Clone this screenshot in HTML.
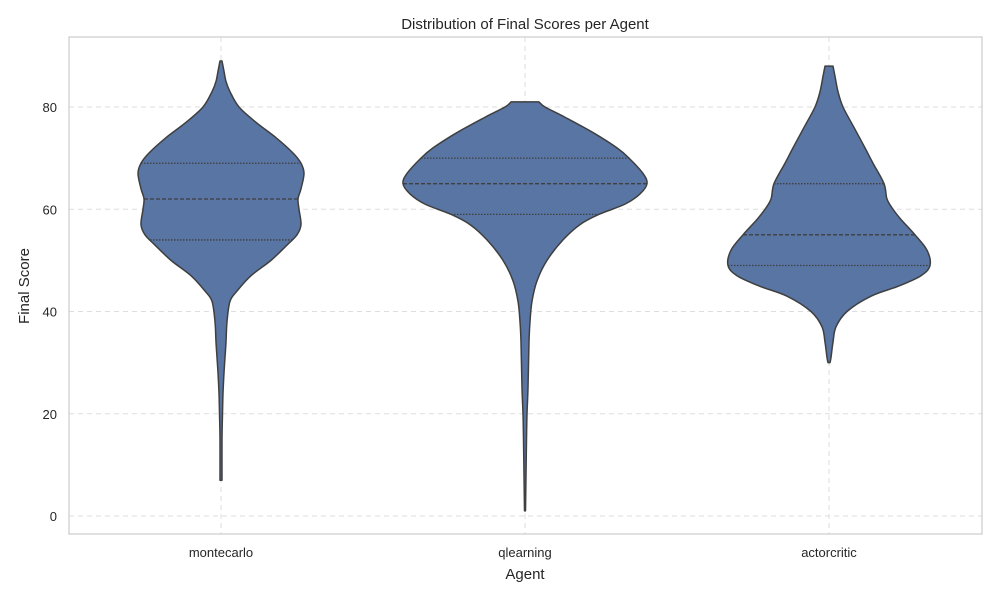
<!DOCTYPE html>
<html><head><meta charset="utf-8"><style>
body{margin:0;background:#fff;font-family:"Liberation Sans",sans-serif}
svg text{font-family:"Liberation Sans",sans-serif;fill:#262626}
</style></head><body>
<svg id="chart" width="1000" height="600" xmlns="http://www.w3.org/2000/svg">
<rect width="1000" height="600" fill="#fff"/>
<g id="grid"></g><g id="violins"></g><g id="axes"></g>
<text x="525" y="29" text-anchor="middle" font-size="15">Distribution of Final Scores per Agent</text>
<text x="525" y="579" text-anchor="middle" font-size="15">Agent</text>
<text transform="translate(29,286) rotate(-90)" text-anchor="middle" font-size="15">Final Score</text>
</svg>
<script>
const categories = ["montecarlo","qlearning","actorcritic"];
const yTicks = [0,20,40,60,80];
const profileMonte = [[89,1],[87,3],[85,5],[83,9],[80,18],[77,35],[74,55],[71,72],[69,80],[67,83],[64,80],[62,77],[60,78],[57,80],[55,76],[53,66],[50,50],[47,30],[44,16],[42,9],[38,6],[34,5],[31,4],[28,3],[24,2],[20,1.5],[15,1],[7,1]];
const profileQ = [[81,14],[80,20],[78,40],[75,68],[72,92],[70,104],[67,118],[65,122],[63,115],[61,100],[59,74],[57,55],[54,38],[50,22],[46,12],[42,7],[38,5],[34,4],[25,3],[20,2],[15,1.5],[8,1],[1,0.5]];
const profileAC = [[88,4],[86,6],[83,9],[80,14],[76,25],[72,36],[69,44],[65,55],[62,58],[60,64],[58,72],[55,86],[52,98],[49,101],[47,92],[45,70],[43,42],[40,18],[37,7],[34,4],[31,2],[30,1]];
const quartMonte = [54,62,69];
const quartQ = [59,65,70];
const quartAC = [49,55,65];
const profiles = [profileMonte, profileQ, profileAC];
const quarts = [quartMonte, quartQ, quartAC];
const NS="http://www.w3.org/2000/svg";
const L=69,R=982,T=37,B=534;
const y=v=>516-v*5.1125;
const x=i=>221+i*304;
const wScale=d=>d;
function mk(t,a,p){const e=document.createElementNS(NS,t);for(const k in a)e.setAttribute(k,a[k]);p.appendChild(e);return e;}
const grid=document.getElementById('grid'),ax=document.getElementById('axes'),vg=document.getElementById('violins');
yTicks.forEach(t=>{
 const g=mk('line',{x1:L,x2:R,y1:y(t),y2:y(t),stroke:'#dddddd','stroke-dasharray':'5,4'},grid);
 
 
 const tx=mk('text',{x:L-12,y:y(t)+5,'text-anchor':'end','font-size':'13'},ax);
 tx.textContent=t;
 
 
});
categories.forEach((c,i)=>{
 const g=mk('line',{x1:x(i),x2:x(i),y1:T,y2:B,stroke:'#dddddd','stroke-dasharray':'5,4'},grid);
 
 
 const tx=mk('text',{x:x(i),y:557,'text-anchor':'middle','font-size':'13'},ax);
 tx.textContent=c;
 
 
});
const fr=mk('rect',{x:L,y:T,width:R-L,height:B-T,fill:'none',stroke:'#cccccc','stroke-width':1.2},ax);


function widthAt(p,v){for(let k=0;k<p.length-1;k++){const a=p[k],b=p[k+1];if(v<=a[0]&&v>=b[0]){const t=(a[0]-v)/(a[0]-b[0]);return a[1]+(b[1]-a[1])*t;}}return 0;}
function smooth(pts){
 let d='M'+pts[0][0]+','+pts[0][1];
 for(let k=0;k<pts.length-1;k++){
  const p0=pts[Math.max(k-1,0)],p1=pts[k],p2=pts[k+1],p3=pts[Math.min(k+2,pts.length-1)];
  const c1=[p1[0]+(p2[0]-p0[0])/6,p1[1]+(p2[1]-p0[1])/6];
  const c2=[p2[0]-(p3[0]-p1[0])/6,p2[1]-(p3[1]-p1[1])/6];
  d+=' C'+c1[0]+','+c1[1]+' '+c2[0]+','+c2[1]+' '+p2[0]+','+p2[1];
 }
 return d;
}
profiles.forEach((p,i)=>{
 const cx=x(i);
 const right=p.map(q=>[cx+wScale(q[1]),y(q[0])]);
 const left=p.slice().reverse().map(q=>[cx-wScale(q[1]),y(q[0])]);
 const d=smooth(right)+' L'+left[0][0]+','+left[0][1]+' '+smooth(left).slice(1).replace(/^[^C]*/,'')+'Z';
 const v=mk('path',{d:d,fill:'#5875a4',stroke:'#3f3f3f','stroke-width':1.5,'stroke-linejoin':'round'},vg);
 
 
 quarts[i].forEach((qv,j)=>{
  const w=wScale(widthAt(p,qv));
  const l=mk('line',{x1:cx-w,x2:cx+w,y1:y(qv),y2:y(qv),stroke:'#3f3f3f','stroke-width':1.3,'stroke-dasharray':j==1?'4,2':'1.5,1.5'},vg);
  
  
 });
});
</script>
</body></html>
